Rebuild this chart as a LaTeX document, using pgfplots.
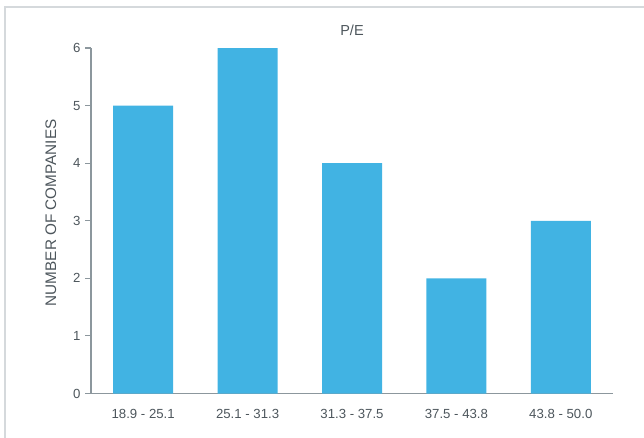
\documentclass[border=0pt]{standalone}
\usepackage{pgfplots}
\pgfplotsset{compat=1.18}
\usepackage{fontspec}
\setmainfont{Liberation Sans}
\definecolor{barblue}{HTML}{41B3E3}
\definecolor{axisgrey}{HTML}{8C979D}
\definecolor{txtgrey}{HTML}{4D565C}
\definecolor{framegrey}{HTML}{D5D9DC}
\begin{document}
\begin{tikzpicture}
\useasboundingbox (0pt,0pt) rectangle (644pt,437pt);
\draw[framegrey, line width=1.6pt] (5pt,-2pt) -- (5pt,430pt) -- (646pt,430pt);
\begin{axis}[
  at={(91pt,43.5pt)}, anchor=south west,
  scale only axis, width=522pt, height=345.5pt,
  xmin=-0.5, xmax=4.5, ymin=0, ymax=6,
  axis x line=bottom, axis y line=left,
  axis line style={axisgrey, line width=1.3pt, -},
  every tick/.style={axisgrey, line width=1.1pt},
  tick align=outside,
  xtick={0,1,2,3,4},
  xticklabels={18.9 - 25.1, 25.1 - 31.3, 31.3 - 37.5, 37.5 - 43.8, 43.8 - 50.0},
  x tick style={draw=none},
  extra x ticks={-0.5,0.5,1.5,2.5,3.5,4.5},
  extra x tick labels={},
  extra x tick style={major tick length=6pt, tick style={axisgrey, line width=1.1pt}},
  ytick={0,1,2,3,4,5,6},
  major tick length=6pt,
  /pgf/number format/assume math mode=true,
  ticklabel style={font=\fontsize{13.2}{15}\selectfont, text=txtgrey},
  xticklabel style={yshift=-6pt},
  yticklabel style={xshift=-1pt},
  ylabel={NUMBER OF COMPANIES},
  ylabel style={font=\fontsize{15.3}{17}\selectfont, text=txtgrey, at={(axis description cs:-0.077,0.523)}, anchor=center},
  title={P/E},
  title style={font=\fontsize{14.5}{17}\selectfont, text=txtgrey, at={(axis description cs:0.5,1)}, anchor=base, yshift=7pt},
  ybar, bar width=60pt,
  clip=false,
]
\addplot[fill=barblue, draw=none, bar shift=0pt] coordinates {(0,5) (1,6) (2,4) (3,2) (4,3)};
\end{axis}
\end{tikzpicture}
\end{document}
